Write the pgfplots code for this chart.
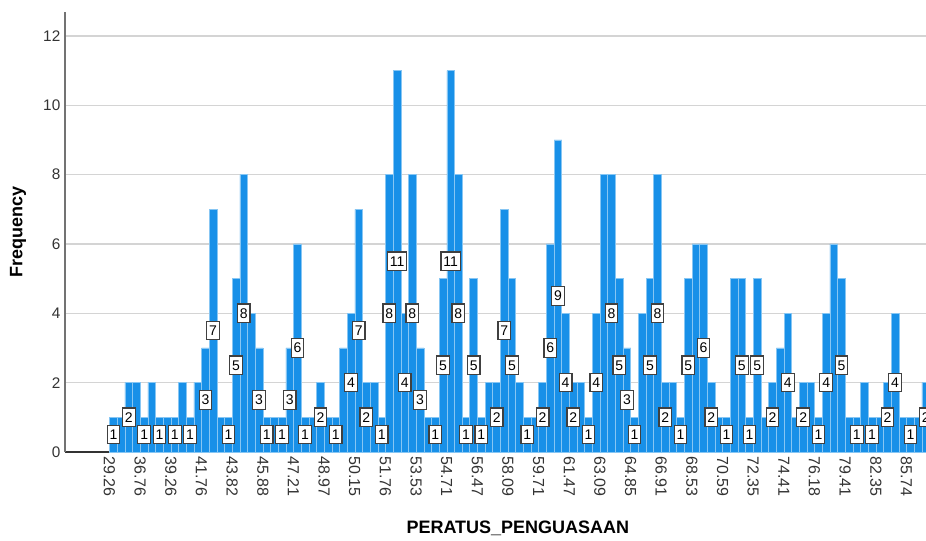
\documentclass[border=0pt]{standalone}
\usepackage{pgfplots}
\pgfplotsset{compat=1.18}
\usepackage{pgfplotstable}
\usepackage{fontspec}
\setmainfont{Liberation Sans}
\definecolor{barblue}{RGB}{24,144,232}
\definecolor{barline}{RGB}{135,198,243}
\definecolor{gridgray}{RGB}{212,212,212}
\pgfplotstableread{
i f
0 1
1 1
2 2
3 2
4 1
5 2
6 1
7 1
8 1
9 2
10 1
11 2
12 3
13 7
14 1
15 1
16 5
17 8
18 4
19 3
20 1
21 1
22 1
23 3
24 6
25 1
26 1
27 2
28 1
29 1
30 3
31 4
32 7
33 2
34 2
35 1
36 8
37 11
38 4
39 8
40 3
41 1
42 1
43 5
44 11
45 8
46 1
47 5
48 1
49 2
50 2
51 7
52 5
53 2
54 1
55 1
56 2
57 6
58 9
59 4
60 2
61 2
62 1
63 4
64 8
65 8
66 5
67 3
68 1
69 4
70 5
71 8
72 2
73 2
74 1
75 5
76 6
77 6
78 2
79 1
80 1
81 5
82 5
83 1
84 5
85 1
86 2
87 3
88 4
89 1
90 2
91 2
92 1
93 4
94 6
95 5
96 1
97 1
98 2
99 1
100 1
101 2
102 4
103 1
104 1
105 1
106 2
}\freq
\pgfplotstableread{
i f
0 1
2 2
4 1
6 1
8 1
10 1
12 3
13 7
15 1
16 5
17 8
19 3
20 1
22 1
23 3
24 6
25 1
27 2
29 1
31 4
32 7
33 2
35 1
36 8
37 11
38 4
39 8
40 3
42 1
43 5
44 11
45 8
46 1
47 5
48 1
50 2
51 7
52 5
54 1
56 2
57 6
58 9
59 4
60 2
62 1
63 4
65 8
66 5
67 3
68 1
70 5
71 8
72 2
74 1
75 5
77 6
78 2
80 1
82 5
83 1
84 5
86 2
88 4
90 2
92 1
93 4
95 5
97 1
99 1
101 2
102 4
104 1
106 2
}\labs
\begin{document}
\begin{tikzpicture}
\path[use as bounding box] (-48.75pt,-66pt) rectangle (645.75pt,339pt);
\begin{axis}[
  at={(0,0)}, anchor=south west,
  scale only axis, width=645.75pt, height=330pt,
  xmin=-6.33, xmax=106.03, ymin=0, ymax=12.69,
  /pgf/number format/assume math mode=true,
  axis x line*=bottom, axis y line*=left,
  x axis line style={-, black!80, line width=0.8pt},
  y axis line style={-, black!55, line width=0.8pt},
  ytick={0,2,...,12},
  ymajorgrids, grid style={gridgray, line width=1pt},
  xtick={0,4,...,104},
  xticklabels={29.26,36.76,39.26,41.76,43.82,45.88,47.21,48.97,50.15,51.76,53.53,54.71,56.47,58.09,59.71,61.47,63.09,64.85,66.91,68.53,70.59,72.35,74.41,76.18,79.41,82.35,85.74},
  xtick style={draw=none}, ytick style={draw=none},
  xticklabel style={rotate=-90, anchor=west, font=\fontsize{12}{14}\selectfont, text=black!80, yshift=-3pt},
  yticklabel style={font=\fontsize{11.5}{14}\selectfont, text=black!80},
  every axis x label/.style={at={(axis description cs:0.526,0)}, yshift=-57pt, anchor=center},
  every axis y label/.style={at={(axis description cs:-0.0546,0.5)}, rotate=90, anchor=center},
  xlabel={\fontsize{13.5}{16}\selectfont\bfseries PERATUS\_PENGUASAAN},
  ylabel={\fontsize{13.5}{16}\selectfont\bfseries Frequency},
]
\addplot[ybar, bar width=1, bar shift=0pt, fill=barblue, draw=barline, line width=0.5pt]
  table[x=i, y=f]{\freq};
\addplot[ybar, bar width=1, bar shift=0pt, draw=none, fill=none,
  nodes near coords, point meta=explicit,
  nodes near coords style={anchor=center, fill=white, draw=black!75, line width=0.9pt,
    inner xsep=1.8pt, inner ysep=3.3pt, font=\fontsize{10.5}{12}\selectfont, text=black}]
  table[x=i, y expr=\thisrow{f}/2, meta=f]{\labs};
\end{axis}
\end{tikzpicture}
\end{document}
